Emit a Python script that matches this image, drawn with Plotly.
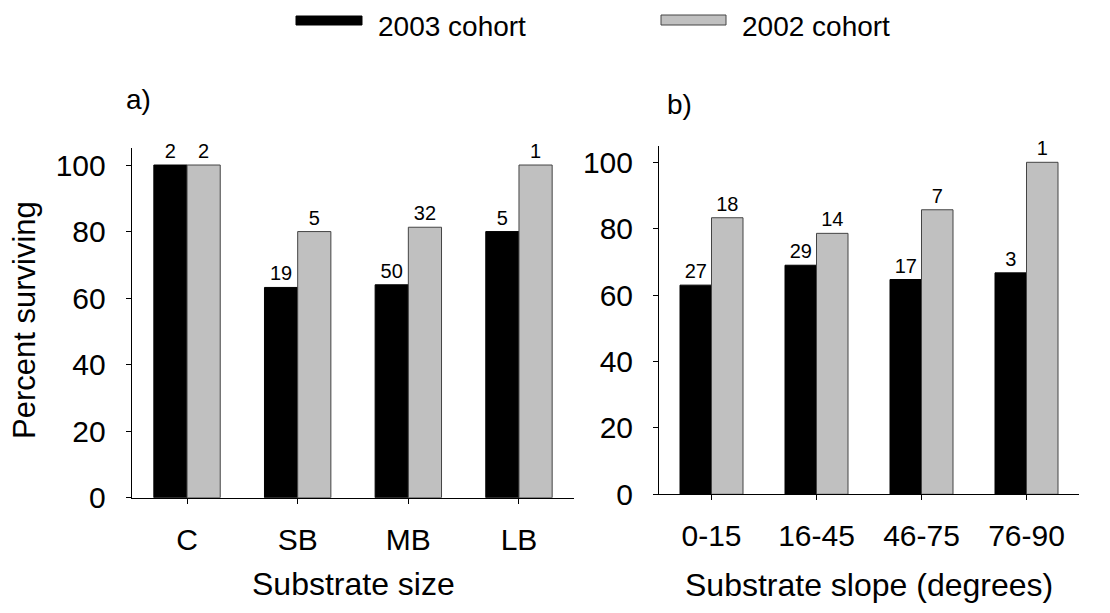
import plotly.graph_objects as go

# panel a) substrate size
size_classes = ["C", "SB", "MB", "LB"]
size_2003 = [100.0, 63.2, 64.0, 80.0]
size_2002 = [100.0, 80.0, 81.3, 100.0]
size_n_2003 = ["2", "19", "50", "5"]
size_n_2002 = ["2", "5", "32", "1"]

# panel b) substrate slope
slope_classes = ["0-15", "16-45", "46-75", "76-90"]
slope_2003 = [63.0, 69.0, 64.7, 66.7]
slope_2002 = [83.3, 78.6, 85.7, 100.0]
slope_n_2003 = ["27", "29", "17", "3"]
slope_n_2002 = ["18", "14", "7", "1"]

y_ticks = [0, 20, 40, 60, 80, 100]

# page body has an 8px margin, so the figure is sized to fit inside the window
PAD = 8
W, H = 1110 - 2 * PAD, 613 - 2 * PAD
FONT = "Liberation Sans, Arial, sans-serif"
BLACK = "#000000"
GREY = "#c0c0c0"
GREY_EDGE = "#444444"


def px(x):
    # window pixel -> paper fraction
    return (x - PAD) / W


def py(y):
    return 1 - (y - PAD) / H


fig = go.Figure()


def add_bars(cats, vals, labels, color, edge, xa, ya):
    fig.add_trace(
        go.Bar(
            x=cats,
            y=vals,
            text=labels,
            textposition="outside",
            textfont=dict(size=20, color="black", family=FONT),
            constraintext="none",
            cliponaxis=False,
            marker=dict(color=color, line=dict(color=edge, width=1)),
            xaxis=xa,
            yaxis=ya,
            showlegend=False,
            hoverinfo="x+y",
        )
    )


add_bars(size_classes, size_2003, size_n_2003, BLACK, BLACK, "x", "y")
add_bars(size_classes, size_2002, size_n_2002, GREY, GREY_EDGE, "x", "y")
add_bars(slope_classes, slope_2003, slope_n_2003, BLACK, BLACK, "x2", "y2")
add_bars(slope_classes, slope_2002, slope_n_2002, GREY, GREY_EDGE, "x2", "y2")

common = dict(
    showline=True,
    linecolor="black",
    linewidth=1,
    ticks="outside",
    ticklen=5,
    tickcolor="black",
    tickfont=dict(size=30, color="black", family=FONT),
    showgrid=False,
    zeroline=False,
    automargin=False,
)
xaxis_style = dict(common, ticklabelstandoff=10, range=[-0.5, 3.5])
yaxis_style = dict(common, ticklabelstandoff=14, range=[0, 105], tickvals=y_ticks)

fig.update_layout(
    width=W,
    height=H,
    margin=dict(l=0, r=0, t=0, b=0),
    paper_bgcolor="white",
    plot_bgcolor="white",
    font=dict(family=FONT, color="black"),
    barmode="group",
    bargap=0.4,
    bargroupgap=0,
    xaxis=dict(domain=[px(131.7), px(574.3)], anchor="y", **xaxis_style),
    yaxis=dict(domain=[py(497.7), py(148.4)], anchor="x", **yaxis_style),
    xaxis2=dict(domain=[px(659), px(1079)], anchor="y2", **xaxis_style),
    yaxis2=dict(domain=[py(494.3), py(145.7)], anchor="x2", **yaxis_style),
)

# custom legend with wide swatches
fig.add_shape(type="rect", xref="paper", yref="paper",
              x0=px(296), x1=px(362), y0=py(25), y1=py(16),
              fillcolor=BLACK, line=dict(color=BLACK, width=1))
fig.add_shape(type="rect", xref="paper", yref="paper",
              x0=px(661), x1=px(726), y0=py(25), y1=py(15),
              fillcolor=GREY, line=dict(color=GREY_EDGE, width=1))

for label, x0 in [("2003 cohort", 376), ("2002 cohort", 740)]:
    fig.add_annotation(
        text=label, x=px(x0), y=py(PAD + 1), xref="paper", yref="paper",
        xanchor="left", yanchor="top", showarrow=False,
        font=dict(size=28, color="black", family=FONT),
    )

annotations = [
    dict(text="a)", x=px(124), y=py(100), xanchor="left", size=28),
    dict(text="b)", x=px(665), y=py(105), xanchor="left", size=28),
    dict(text="Substrate size", x=px(353), y=py(584), xanchor="center", size=32),
    dict(text="Substrate slope (degrees)", x=px(869), y=py(585), xanchor="center", size=32),
]
for a in annotations:
    fig.add_annotation(
        text=a["text"], x=a["x"], y=a["y"], xref="paper", yref="paper",
        xanchor=a["xanchor"], yanchor="middle", showarrow=False,
        font=dict(size=a["size"], color="black", family=FONT),
    )

fig.add_annotation(
    text="Percent surviving", x=px(24), y=py(320), xref="paper", yref="paper",
    xanchor="center", yanchor="middle", showarrow=False, textangle=-90,
    font=dict(size=31, color="black", family=FONT),
)

fig.write_html("out.html")
